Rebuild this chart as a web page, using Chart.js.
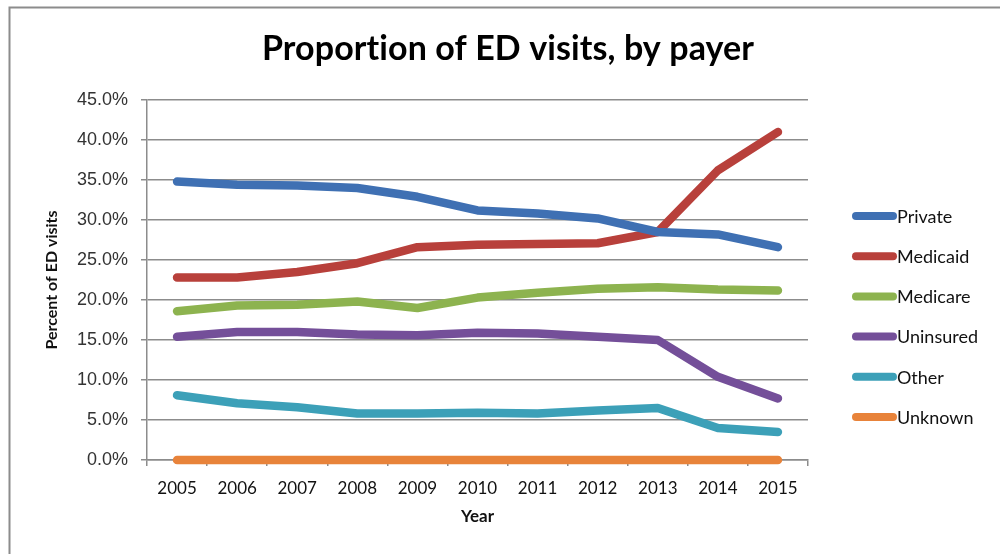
<!DOCTYPE html>
<html>
<head>
<meta charset="utf-8">
<script src="https://cdn.jsdelivr.net/npm/chart.js@4/dist/chart.umd.min.js"></script>
<style>
  html, body { margin: 0; padding: 0; background: #fff; }
  #wrap { width: 1000px; height: 554px; }
</style>
</head>
<body>
<div id="wrap"><canvas id="chart" width="1000" height="554"></canvas></div>
<script>
const years = ["2005", "2006", "2007", "2008", "2009", "2010", "2011", "2012", "2013", "2014", "2015"];
const privateVals   = [34.8, 34.4, 34.3, 34.0, 32.9, 31.2, 30.8, 30.2, 28.5, 28.2, 26.6];
const medicaidVals  = [22.8, 22.8, 23.5, 24.6, 26.6, 26.9, 27.0, 27.1, 28.5, 36.2, 41.0];
const medicareVals  = [18.6, 19.3, 19.4, 19.8, 19.0, 20.3, 20.9, 21.4, 21.6, 21.3, 21.2];
const uninsuredVals = [15.4, 16.0, 16.0, 15.7, 15.6, 15.9, 15.8, 15.4, 15.0, 10.4, 7.7];
const otherVals     = [8.1, 7.1, 6.6, 5.8, 5.8, 5.9, 5.8, 6.2, 6.5, 4.0, 3.5];
const unknownVals   = [0, 0, 0, 0, 0, 0, 0, 0, 0, 0, 0];

const seriesNames  = ["Private", "Medicaid", "Medicare", "Uninsured", "Other", "Unknown"];
const seriesColors = ["#3f70b3", "#b8403b", "#8db34f", "#744f99", "#3ca0b8", "#e8833a"];
const seriesVals   = [privateVals, medicaidVals, medicareVals, uninsuredVals, otherVals, unknownVals];

const datasets = seriesNames.map((name, i) => ({
    label: name,
    data: seriesVals[i],
    borderColor: seriesColors[i],
    backgroundColor: seriesColors[i],
    borderWidth: 8.5,
    borderCapStyle: "round",
    borderJoinStyle: "round",
    pointRadius: 0,
    tension: 0,
    clip: false
}));

// title, legend and frame are drawn by hand so the plot area lands where it should
const extras = {
    id: "extras",
    afterDraw(chart) {
        const ctx = chart.ctx;
        ctx.save();
        ctx.strokeStyle = "#8c8c8c";
        ctx.lineWidth = 2;
        ctx.beginPath();
        ctx.moveTo(9.5, 554); ctx.lineTo(9.5, 7.5); ctx.lineTo(1000, 7.5);
        ctx.stroke();

        ctx.fillStyle = "#000";
        ctx.font = "bold 34px Lato";
        ctx.letterSpacing = "0.1px";
        ctx.textAlign = "center";
        ctx.textBaseline = "alphabetic";
        ctx.fillText("Proportion of ED visits, by payer", 508, 60);
        ctx.letterSpacing = "0px";

        ctx.font = "18px Lato";
        ctx.textAlign = "left";
        ctx.textBaseline = "middle";
        seriesNames.forEach((name, i) => {
            const y = 216 + i * 40.2;
            ctx.strokeStyle = seriesColors[i];
            ctx.lineWidth = 8;
            ctx.lineCap = "round";
            ctx.beginPath();
            ctx.moveTo(856, y); ctx.lineTo(893, y);
            ctx.stroke();
            ctx.fillStyle = "#111";
            ctx.fillText(name, 897, y + 1);
        });
        ctx.restore();
    }
};

new Chart(document.getElementById("chart"), {
    type: "line",
    data: { labels: years, datasets: datasets },
    plugins: [extras],
    options: {
        responsive: false,
        animation: false,
        layout: { padding: { top: 100, right: 192, bottom: 0, left: 0 } },
        plugins: { legend: { display: false }, title: { display: false }, tooltip: { enabled: false } },
        scales: {
            x: {
                offset: true,
                afterFit(scale) { scale.height = 94; },
                grid: { offset: true, drawOnChartArea: false, drawTicks: true, tickLength: 6, color: "#8c8c8c", lineWidth: 1.5 },
                border: { color: "#8c8c8c", width: 1.5 },
                ticks: { color: "#111", font: { family: "Lato", size: 17 }, padding: 12, maxRotation: 0, autoSkip: false },
                title: { display: true, text: "Year", color: "#111", font: { family: "Lato", size: 17, weight: "bold" }, padding: { top: 0, bottom: 27 } }
            },
            y: {
                min: 0,
                max: 45,
                afterFit(scale) { scale.width = 147; },
                grid: { color: "#8c8c8c", lineWidth: 1.5, tickLength: 6 },
                border: { color: "#8c8c8c", width: 1.5 },
                ticks: {
                    stepSize: 5,
                    color: "#333",
                    padding: 13,
                    font: { family: "Liberation Sans", size: 18 },
                    callback: v => v.toFixed(1) + "%"
                },
                title: { display: true, text: "Percent of ED visits", color: "#111", font: { family: "Lato", size: 16, weight: "bold" }, padding: { top: 42, bottom: 0 } }
            }
        }
    }
});
</script>
</body>
</html>
